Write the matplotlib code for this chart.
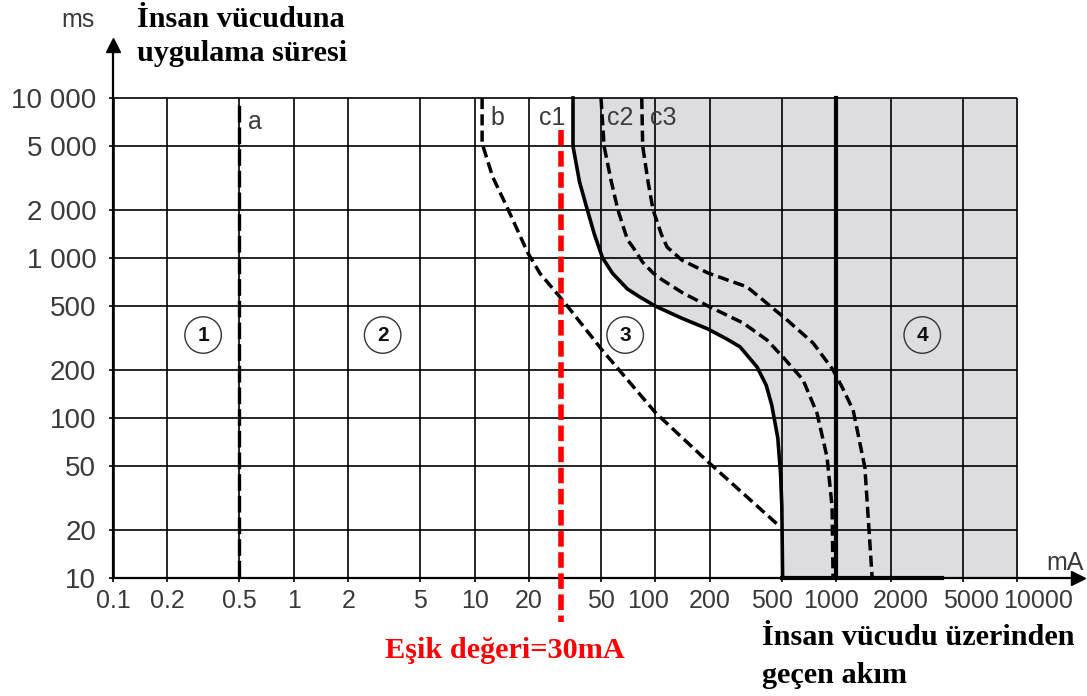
import numpy as np
import matplotlib.pyplot as plt
from matplotlib.transforms import ScaledTranslation

# axis ticks
x_ticks = [0.1, 0.2, 0.5, 1, 2, 5, 10, 20, 50, 100, 200, 500, 1000, 2000, 5000, 10000]
x_labels = ['0.1', '0.2', '0.5', '1', '2', '5', '10', '20', '50', '100', '200',
            '500', '1000', '2000', '5000', '10000']
y_ticks = [10, 20, 50, 100, 200, 500, 1000, 2000, 5000, 10000]
y_labels = ['10', '20', '50', '100', '200', '500', '1 000', '2 000', '5 000', '10 000']

# curves (mA, ms)
a_ma = [0.5, 0.5]
a_ms = [10.2, 9000]

b_ma = [11, 11, 12.6, 15.1, 19.7, 23, 31.6, 50.7, 100, 196, 476]
b_ms = [10000, 5200, 3200, 2080, 1075, 800, 523, 266, 108, 53, 21.5]

c1_ma = [35, 35, 38, 42, 46, 51, 58, 70, 82, 100, 140, 195, 250, 294, 365, 410,
         440, 475, 492, 500, 505]
c1_ms = [10000, 5000, 3000, 2000, 1400, 1000, 800, 640, 570, 500, 420, 360, 310,
         278, 208, 160, 120, 75, 45, 28, 10]

c2_ma = [50, 52, 57, 62, 70, 75, 85, 97, 109, 142, 200, 306, 414, 508, 655, 783,
         889, 948, 960]
c2_ms = [10000, 5000, 3000, 2000, 1300, 1170, 940, 806, 730, 604, 494, 392, 307,
         240, 173, 107, 57, 28, 10]

c3_ma = [84, 85, 91, 97, 108, 116, 140, 195, 249, 321, 534, 745, 959, 1077, 1240,
         1440, 1580]
c3_ms = [10000, 5000, 3000, 2000, 1400, 1170, 970, 806, 730, 660, 410, 294, 200,
         156, 112, 49, 10]

zone4_ma = [1000, 1000]
zone4_ms = [10, 10000]
bottom_ma = [500, 3850]

threshold_ma = 30
zones = ['1', '2', '3', '4']
zone_ma = [0.315, 3.1, 68, 2990]
zone_ms = [330, 330, 330, 330]

curve_names = ['a', 'b', 'c1', 'c2', 'c3']
name_ma = [0.61, 13.3, 26.8, 63.7, 110]
name_ms = [7080, 7500, 7500, 7500, 7500]

# small horizontal shifts of some x tick labels, in pixels
x_label_shift = {'100': -7, '500': -10, '1000': -5, '2000': 10, '5000': 8, '10000': 21}

grey = '#3a3a3a'
fig = plt.figure(figsize=(10.87, 6.96), dpi=100)
ax = fig.add_axes([113 / 1087, 118 / 696, 965 / 1087, 533 / 696])
ax.set_xscale('log')
ax.set_yscale('log')
xmax = 10 ** 4.337
ymax = 10 ** 4.331
ax.set_xlim(0.1, xmax)
ax.set_ylim(10, ymax)

# shaded zone right of c1
ax.fill_betweenx(c1_ms, c1_ma, 10000, color='#dddce1', lw=0, zorder=0)

# grid
ax.vlines(x_ticks[1:], 10, 10000, color='black', lw=1.2, zorder=1)
ax.hlines(y_ticks[1:], 0.1, 10000, color='black', lw=1.2, zorder=1)
ax.vlines(0.1, 10, 10000, color='black', lw=2.6, zorder=2)

dash = (3.2, 1.5)
ax.plot(a_ma, a_ms, color='black', lw=2.4, dashes=(5, 1.5), zorder=3)
ax.plot(b_ma, b_ms, color='black', lw=2.5, dashes=dash, zorder=3)
ax.plot(c1_ma, c1_ms, color='black', lw=2.6, zorder=3)
ax.plot(c2_ma, c2_ms, color='black', lw=2.5, dashes=dash, zorder=3)
ax.plot(c3_ma, c3_ms, color='black', lw=2.5, dashes=dash, zorder=3)
ax.plot(zone4_ma, zone4_ms, color='black', lw=3, zorder=3)
ax.plot(bottom_ma, [10, 10], color='black', lw=3, zorder=3, clip_on=False)

ax.plot([threshold_ma, threshold_ma], [6300, 5.3], color='red', lw=4,
        dashes=(2.8, 1.0), zorder=4, clip_on=False)

for name, xm, ym in zip(curve_names, name_ma, name_ms):
    ax.text(xm, ym, name, color=grey, fontsize=18, ha='center', va='center',
            family='Liberation Sans')

for z, xm, ym in zip(zones, zone_ma, zone_ms):
    ax.text(xm, ym, z, color='#111111', fontsize=15, ha='center', va='center',
            family='Liberation Sans', weight='bold', zorder=5,
            bbox=dict(boxstyle='circle,pad=0.42', fc='none', ec='#333333', lw=1))

# axes and arrows
for s in ['top', 'right']:
    ax.spines[s].set_visible(False)
ax.spines['left'].set_linewidth(1.6)
ax.spines['bottom'].set_linewidth(1.6)
ax.plot(0.1, ymax, marker='^', ms=10, color='black', clip_on=False, zorder=6)
ax.plot(xmax, 10, marker='>', ms=10, color='black', clip_on=False, zorder=6)

ax.set_xticks(x_ticks)
ax.set_xticklabels(x_labels)
ax.set_yticks(y_ticks)
ax.set_yticklabels(y_labels)
ax.minorticks_off()
ax.tick_params(axis='both', direction='out', length=3, width=1.2, colors='black',
               labelcolor=grey)
ax.tick_params(axis='x', pad=5, labelsize=18)
ax.tick_params(axis='y', pad=9, labelsize=20)
for lab in ax.get_xticklabels() + ax.get_yticklabels():
    lab.set_family('Liberation Sans')
for lab in ax.get_xticklabels():
    dx = x_label_shift.get(lab.get_text(), 0)
    if dx:
        lab.set_transform(lab.get_transform() + ScaledTranslation(dx / 100, 0, fig.dpi_scale_trans))

fig.text(78 / 1087, 1 - 20 / 696, 'ms', color=grey, fontsize=18, ha='center',
         va='center', family='Liberation Sans')
fig.text(1065 / 1087, 1 - 563 / 696, 'mA', color=grey, fontsize=18, ha='center',
         va='center', family='Liberation Sans')

serif = dict(family='Liberation Serif', weight='bold', fontsize=21.8)
fig.text(137 / 1087, 1 - 27 / 696, 'İnsan vücuduna', color='black', va='baseline', **serif)
fig.text(137 / 1087, 1 - 61 / 696, 'uygulama süresi', color='black', va='baseline', **serif)
fig.text(505 / 1087, 1 - 658 / 696, 'Eşik değeri=30mA', color='red', ha='center',
         va='baseline', **serif)
fig.text(762 / 1087, 1 - 645 / 696, 'İnsan vücudu üzerinden', color='black',
         va='baseline', **serif)
fig.text(762 / 1087, 1 - 683 / 696, 'geçen akım', color='black', va='baseline', **serif)

plt.savefig('out.png', dpi=100)
